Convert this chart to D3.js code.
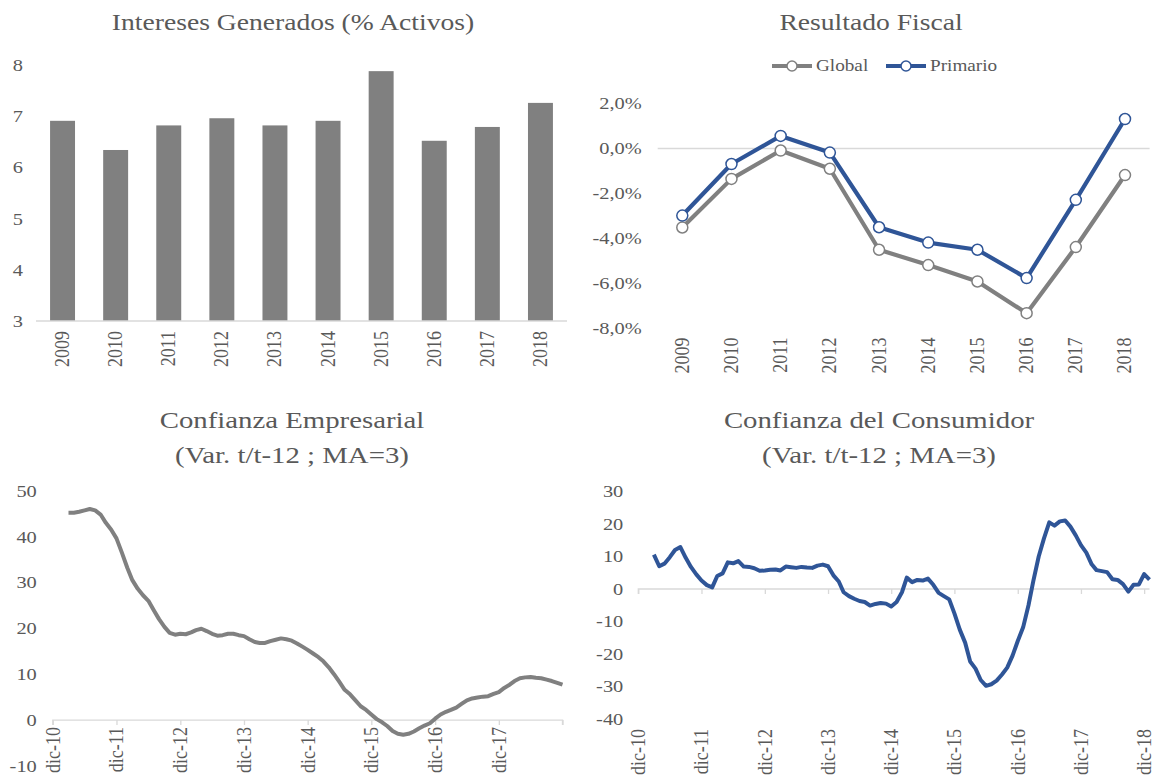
<!DOCTYPE html>
<html lang="es">
<head>
<meta charset="utf-8">
<title>Indicadores</title>
<script src="https://cdn.jsdelivr.net/npm/d3@7"></script>
<style>
  body { margin: 0; background: #fff; }
  text { font-family: "Liberation Serif", "Times New Roman", serif; fill: #595959; }
</style>
</head>
<body>
<script>
// ---- data ----
var years = ["2009", "2010", "2011", "2012", "2013", "2014", "2015", "2016", "2017", "2018"];
var intereses = [6.91, 6.34, 6.82, 6.96, 6.82, 6.91, 7.88, 6.52, 6.79, 7.26];

var fiscalGlobal   = [-3.51, -1.35, -0.09, -0.90, -4.50, -5.18, -5.91, -7.32, -4.38, -1.18];
var fiscalPrimario = [-2.98, -0.69, 0.56, -0.18, -3.50, -4.18, -4.50, -5.76, -2.28, 1.31];

// monthly, starting mar-2011
var empresarial = [45.2, 45.2, 45.4, 45.7, 46.0, 45.7, 44.8, 43.0, 41.5, 39.6,
  36.5, 33.2, 30.5, 28.6, 27.2, 26.0, 24.0, 22.0, 20.3, 19.0,
  18.6, 18.8, 18.7, 19.1, 19.6, 19.9, 19.4, 18.8, 18.4, 18.5,
  18.8, 18.8, 18.5, 18.3, 17.6, 17.0, 16.8, 16.8, 17.2, 17.5,
  17.8, 17.6, 17.3, 16.7, 16.0, 15.3, 14.5, 13.7, 12.8, 11.5,
  10.0, 8.3, 6.6, 5.6, 4.3, 3.0, 2.2, 1.2, 0.2, -0.5,
  -1.3, -2.4, -3.0, -3.2, -3.0, -2.5, -1.8, -1.2, -0.7, 0.3,
  1.2, 1.8, 2.2, 2.7, 3.5, 4.3, 4.7, 4.9, 5.1, 5.2,
  5.7, 6.1, 7.0, 7.7, 8.5, 9.1, 9.3, 9.4, 9.2, 9.1,
  8.8, 8.5, 8.1, 7.7];

// monthly, starting mar-2011
var consumidor = [10.6, 7.0, 7.8, 9.8, 12.0, 12.9, 9.6, 6.8, 4.5, 2.6,
  1.2, 0.5, 4.0, 4.8, 8.2, 7.9, 8.6, 6.9, 6.8, 6.4,
  5.6, 5.7, 5.9, 6.0, 5.7, 6.9, 6.7, 6.5, 6.8, 6.6,
  6.5, 7.2, 7.5, 7.0, 4.2, 2.3, -1.0, -2.2, -3.0, -3.7,
  -4.0, -5.1, -4.6, -4.3, -4.5, -5.4, -4.0, -1.0, 3.5, 2.1,
  2.8, 2.6, 3.2, 1.3, -1.2, -2.2, -3.2, -7.5, -12.5, -16.5,
  -22.3, -24.5, -28.0, -29.8, -29.3, -28.2, -26.3, -24.2, -20.5, -16.0,
  -11.8, -5.0, 2.5, 10.0, 15.5, 20.5, 19.5, 20.8, 21.1, 19.2,
  16.5, 13.5, 11.2, 7.6, 5.8, 5.5, 5.2, 3.0, 2.8, 1.5,
  -0.8, 1.3, 1.4, 4.6, 2.9];

var monthNames = ["ene", "feb", "mar", "abr", "may", "jun", "jul", "ago", "sep", "oct", "nov", "dic"];
var blue = "#2F5597", gray = "#808080", axisGray = "#d9d9d9";
var SX = 1.2; // the reference text is drawn a bit wide

var svg = d3.select("body").append("svg")
  .attr("width", 1158).attr("height", 778);

function wideText(x, y, t, size, anchor) {
  return svg.append("text")
    .attr("transform", "translate(" + x + "," + y + ") scale(" + SX + ",1)")
    .attr("text-anchor", anchor || "middle").attr("font-size", size).text(t);
}

function title(lines, cx, y0, size) {
  lines.forEach(function(t, i) { wideText(cx, y0 + i * 35, t, size || "23px"); });
}

// y axis labels, stretched horizontally
function styleY(g, pad) {
  g.select(".domain").remove();
  g.selectAll("text").attr("font-size", "17px").attr("fill", "#595959")
    .attr("x", 0).attr("transform", "translate(" + (-pad) + ",0) scale(" + SX + ",1)");
}

// rotated x labels
function styleX(g, pad) {
  g.select(".domain").remove();
  g.selectAll("text").attr("font-size", "18px").attr("fill", "#595959")
    .attr("text-anchor", "end").attr("transform", "rotate(-90) scale(1," + SX + ")")
    .attr("x", -pad).attr("y", 0).attr("dy", "0.3em");
}

function monthDates(n) {
  var start = new Date(Date.UTC(2011, 2, 1));
  return d3.range(n).map(function(i) { return d3.utcMonth.offset(start, i); });
}
function dicLabel(d) {
  return monthNames[d.getUTCMonth()] + "-" + String(d.getUTCFullYear()).slice(2);
}

// ---- Intereses Generados ----
(function() {
  var x = d3.scaleBand().domain(years).range([36, 567]).paddingInner(0.53).paddingOuter(0.265);
  var y = d3.scaleLinear().domain([3, 8]).range([321, 65]);
  title(["Intereses Generados (% Activos)"], 293, 30);

  svg.append("g").selectAll("rect").data(intereses).enter().append("rect")
    .attr("x", function(d, i) { return x(years[i]); })
    .attr("y", function(d) { return y(d); })
    .attr("width", x.bandwidth())
    .attr("height", function(d) { return y(3) - y(d); })
    .attr("fill", gray);

  svg.append("line").attr("x1", 36).attr("x2", 567).attr("y1", 321).attr("y2", 321)
    .attr("stroke", axisGray).attr("stroke-width", 1.3);

  var ya = svg.append("g").attr("transform", "translate(36,0)")
    .call(d3.axisLeft(y).ticks(5).tickSize(0));
  styleY(ya, 13);

  var xa = svg.append("g").attr("transform", "translate(0,321)")
    .call(d3.axisBottom(x).tickSize(0));
  styleX(xa, 10);
})();

// ---- Resultado Fiscal ----
(function() {
  var x = d3.scaleBand().domain(years).range([657.7, 1149.6]);
  var y = d3.scaleLinear().domain([-8, 2]).range([328.5, 103.5]);
  title(["Resultado Fiscal"], 871, 30);

  svg.append("line").attr("x1", 657.7).attr("x2", 1149.6).attr("y1", y(0)).attr("y2", y(0))
    .attr("stroke", axisGray).attr("stroke-width", 1.3);

  var ya = svg.append("g").attr("transform", "translate(657.7,0)")
    .call(d3.axisLeft(y).tickValues([-8, -6, -4, -2, 0, 2]).tickSize(0)
      .tickFormat(function(d) { return d3.format(".1f")(d).replace(".", ",").replace("−", "-") + "%"; }));
  styleY(ya, 16);

  var xa = svg.append("g").attr("transform", "translate(0,328.5)")
    .call(d3.axisBottom(x).tickSize(0));
  styleX(xa, 9);

  var cx = function(d, i) { return x(years[i]) + x.bandwidth() / 2; };
  var line = d3.line().x(cx).y(function(d) { return y(d); });

  [[fiscalGlobal, gray], [fiscalPrimario, blue]].forEach(function(s) {
    svg.append("path").datum(s[0]).attr("d", line).attr("fill", "none")
      .attr("stroke", s[1]).attr("stroke-width", 4.2).attr("stroke-linejoin", "round");
    svg.append("g").selectAll("circle").data(s[0]).enter().append("circle")
      .attr("cx", cx).attr("cy", function(d) { return y(d); }).attr("r", 5.5)
      .attr("fill", "#fff").attr("stroke", s[1]).attr("stroke-width", 1.5);
  });

  // legend
  var items = [{ name: "Global", color: gray, x: 772 }, { name: "Primario", color: blue, x: 886 }];
  items.forEach(function(it) {
    svg.append("line").attr("x1", it.x).attr("x2", it.x + 40).attr("y1", 66).attr("y2", 66)
      .attr("stroke", it.color).attr("stroke-width", 4);
    svg.append("circle").attr("cx", it.x + 20).attr("cy", 66).attr("r", 5)
      .attr("fill", "#fff").attr("stroke", it.color).attr("stroke-width", 1.5);
    wideText(it.x + 44, 71, it.name, "16px", "start");
  });
})();

// ---- Confianza Empresarial ----
(function() {
  var x = d3.scaleUtc().domain([new Date(Date.UTC(2010, 11, 1)), new Date(Date.UTC(2018, 11, 1))]).range([52.8, 562.5]);
  var y = d3.scaleLinear().domain([-10, 50]).range([765.9, 490.7]);
  title(["Confianza Empresarial", "(Var. t/t-12 ; MA=3)"], 292, 428, "24px");

  var ticks = d3.range(2010, 2019).map(function(yr) { return new Date(Date.UTC(yr, 11, 1)); });

  var ya = svg.append("g").attr("transform", "translate(52.8,0)")
    .call(d3.axisLeft(y).tickValues([-10, 0, 10, 20, 30, 40, 50]).tickSize(0)
      .tickFormat(function(d) { return String(d); }));
  styleY(ya, 16);

  var za = svg.append("g").attr("transform", "translate(0," + y(0) + ")")
    .call(d3.axisBottom(x).tickValues(ticks).tickSize(5).tickFormat(""));
  za.select(".domain").attr("stroke", axisGray).attr("stroke-width", 1.3).attr("d", "M52.8,5V0H562.5V5");
  za.selectAll(".tick line").attr("stroke", axisGray).attr("stroke-width", 1.3);

  var xa = svg.append("g").attr("transform", "translate(0," + y(0) + ")")
    .call(d3.axisBottom(x).tickValues(ticks.slice(0, -1)).tickSize(0).tickFormat(dicLabel));
  styleX(xa, 7);

  var dates = monthDates(empresarial.length);
  svg.append("path").datum(empresarial)
    .attr("d", d3.line().x(function(d, i) { return x(dates[i]); }).y(function(d) { return y(d); }))
    .attr("fill", "none").attr("stroke", gray).attr("stroke-width", 4).attr("stroke-linejoin", "round");
})();

// ---- Confianza del Consumidor ----
(function() {
  var x = d3.scaleUtc().domain([new Date(Date.UTC(2010, 11, 1)), new Date(Date.UTC(2019, 0, 1))]).range([638.3, 1149.5]);
  var y = d3.scaleLinear().domain([-40, 30]).range([719, 491.5]);
  title(["Confianza del Consumidor", "(Var. t/t-12 ; MA=3)"], 879, 428, "24px");

  var ticks = d3.range(2010, 2019).map(function(yr) { return new Date(Date.UTC(yr, 11, 1)); });

  var ya = svg.append("g").attr("transform", "translate(638.3,0)")
    .call(d3.axisLeft(y).tickValues([-40, -30, -20, -10, 0, 10, 20, 30]).tickSize(0)
      .tickFormat(function(d) { return String(d); }));
  styleY(ya, 15);

  var za = svg.append("g").attr("transform", "translate(0," + y(0) + ")")
    .call(d3.axisBottom(x).tickValues(ticks).tickSize(5).tickFormat(""));
  za.select(".domain").attr("stroke", axisGray).attr("stroke-width", 1.3).attr("d", "M638.3,5V0H1149.5");
  za.selectAll(".tick line").attr("stroke", axisGray).attr("stroke-width", 1.3);

  var xa = svg.append("g").attr("transform", "translate(0," + y(-40) + ")")
    .call(d3.axisBottom(x).tickValues(ticks).tickSize(0).tickFormat(dicLabel));
  styleX(xa, 10);

  var dates = monthDates(consumidor.length);
  svg.append("path").datum(consumidor)
    .attr("d", d3.line().x(function(d, i) { return x(dates[i]); }).y(function(d) { return y(d); }))
    .attr("fill", "none").attr("stroke", blue).attr("stroke-width", 4).attr("stroke-linejoin", "round");
})();
</script>
</body>
</html>
